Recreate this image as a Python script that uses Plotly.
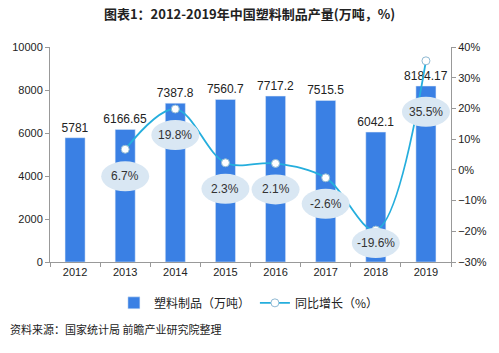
import plotly.graph_objects as go

years = ["2012", "2013", "2014", "2015", "2016", "2017", "2018", "2019"]
output = [5781, 6166.65, 7387.8, 7560.7, 7717.2, 7515.5, 6042.1, 8184.17]
output_labels = ["5781", "6166.65", "7387.8", "7560.7", "7717.2", "7515.5", "6042.1", "8184.17"]
growth = [None, 6.7, 19.8, 2.3, 2.1, -2.6, -19.6, 35.5]
growth_labels = ["", "6.7%", "19.8%", "2.3%", "2.1%", "-2.6%", "-19.6%", "35.5%"]
label_offset = [0, -27, -26, -26, -26, -26, -13, -51]  # pixel shift of bubble below point

FONT = "Arial, 'Liberation Sans', 'Noto Sans CJK SC', sans-serif"
CJK = "'Noto Sans CJK SC', 'Microsoft YaHei', sans-serif"
BAR = "#3a80e4"
LINE = "#25aedd"

fig = go.Figure()
fig.add_trace(go.Bar(
    x=years, y=output, name="塑料制品（万吨）",
    marker=dict(color=BAR), width=0.4,
    text=output_labels, textposition="outside", cliponaxis=False, constraintext="none",
    textfont=dict(size=12, color="#222", family=FONT),
))
fig.add_trace(go.Scatter(
    x=years, y=growth, name="同比增长（%）", yaxis="y2",
    mode="lines+markers", line=dict(color=LINE, width=1.8, shape="spline", smoothing=1.0),
    marker=dict(size=8, color="white", line=dict(color="#8fb9d3", width=1)),
    cliponaxis=False,
))

for i, (g, lab, off) in enumerate(zip(growth, growth_labels, label_offset)):
    if g is None:
        continue
    fig.add_shape(type="circle", xref="x", yref="y2", xsizemode="pixel", ysizemode="pixel",
                  xanchor=i, yanchor=g, x0=-24, x1=24, y0=off - 15, y1=off + 15,
                  fillcolor="#d9e7f3", line=dict(width=0), layer="above")
    fig.add_annotation(x=i, y=g, xref="x", yref="y2", text=lab, showarrow=False,
                       yshift=off, font=dict(size=12, color="#333", family=FONT))

fig.update_layout(
    width=499, height=353, paper_bgcolor="white", plot_bgcolor="white",
    margin=dict(l=50, r=46, t=47, b=91),
    title=dict(text="<b>图表1：2012-2019年中国塑料制品产量(万吨，%)</b>", x=0.5, xanchor="center",
               y=1 - 14 / 353, yanchor="middle", font=dict(size=13, color="#222", family=CJK)),
    showlegend=True,
    legend=dict(orientation="h", x=0.496, xanchor="center", y=-0.19, yanchor="middle",
                font=dict(size=12, color="#222", family=CJK), itemwidth=30, tracegroupgap=0),
    bargap=0.6,
    xaxis=dict(type="category", showline=True, linecolor="#999", ticks="outside", tickson="boundaries",
               ticklen=4, tickcolor="#999", tickfont=dict(size=11, color="#222", family=FONT),
               showgrid=False, range=[-0.5, 7.5]),
    yaxis=dict(range=[0, 10000], dtick=2000, tickformat="d", showline=True, linecolor="#999",
               ticks="outside", ticklen=4, tickcolor="#999", showgrid=False, zeroline=False,
               tickfont=dict(size=11, color="#222", family=FONT)),
    yaxis2=dict(range=[-30, 40], dtick=10, overlaying="y", side="right", showline=True, linecolor="#999",
                ticks="outside", ticklen=4, tickcolor="#999", showgrid=False, zeroline=False,
                ticksuffix="%", tickfont=dict(size=11, color="#222", family=FONT)),
)
fig.add_annotation(text="资料来源：国家统计局 前瞻产业研究院整理", xref="paper", yref="paper",
                   x=-42 / 403, y=(262 - 329) / 215, xanchor="left", yanchor="middle",
                   showarrow=False, font=dict(size=11, color="#222", family=CJK))

fig.write_html("out.html")
